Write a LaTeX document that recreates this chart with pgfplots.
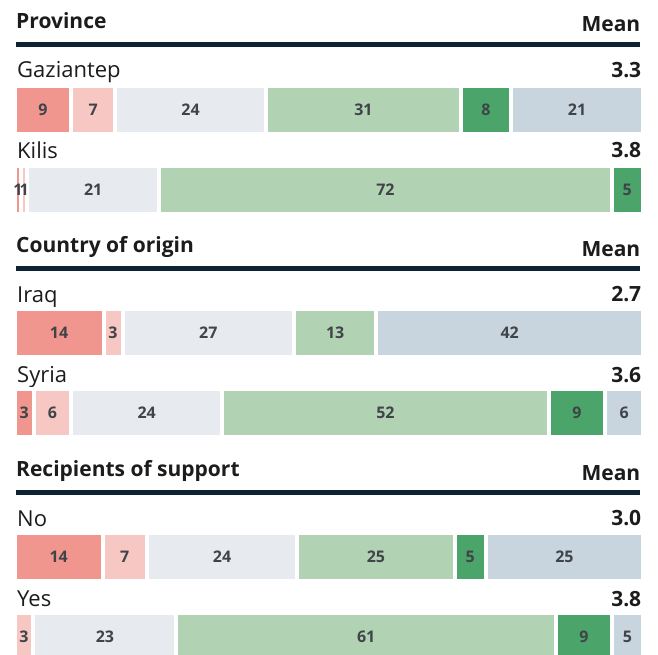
\documentclass[border=0pt]{standalone}
\usepackage{pgfplots}
\usepackage{pgfplotstable}
\pgfplotsset{compat=1.18}
\usepackage{fontspec}
\setmainfont{Open Sans}

\definecolor{c1}{HTML}{F0968F}
\definecolor{c2}{HTML}{F7C8C3}
\definecolor{c3}{HTML}{E7EAEF}
\definecolor{c4}{HTML}{B2D2B4}
\definecolor{c5}{HTML}{4BA46A}
\definecolor{c6}{HTML}{C9D5DE}
\definecolor{rulec}{HTML}{0E2233}
\definecolor{labc}{HTML}{404448}
\definecolor{txtc}{HTML}{1C1C1C}

% y = bar centre (pixel row), v = share, t = row total (for normalising bar length), lab = label
\pgfplotstableread{
y v t lab
110 9 100 9
190 1 100 1
333 14 99 14
413 3 100 3
557 14 100 14
637 0 101 {}
}\segA
\pgfplotstableread{
y v t lab
110 7 100 7
190 1 100 1
333 3 99 3
413 6 100 6
557 7 100 7
637 3 101 3
}\segB
\pgfplotstableread{
y v t lab
110 24 100 24
190 21 100 21
333 27 99 27
413 24 100 24
557 24 100 24
637 23 101 23
}\segC
\pgfplotstableread{
y v t lab
110 31 100 31
190 72 100 72
333 13 99 13
413 52 100 52
557 25 100 25
637 61 101 61
}\segD
\pgfplotstableread{
y v t lab
110 8 100 8
190 5 100 5
333 0 99 {}
413 9 100 9
557 5 100 5
637 9 101 9
}\segE
\pgfplotstableread{
y v t lab
110 21 100 21
190 0 100 {}
333 42 99 42
413 6 100 6
557 25 100 25
637 5 101 5
}\segF

\newcommand{\hfont}{\fontsize{21}{21}\selectfont\bfseries}
\newcommand{\rfont}{\fontsize{22}{22}\selectfont}
\newcommand{\mfont}{\fontsize{21}{21}\selectfont\bfseries}

\begin{document}
\begin{tikzpicture}
\begin{axis}[
  scale only axis, width=658pt, height=655pt,
  xmin=-2.34, xmax=102.39, ymin=0, ymax=655, y dir=reverse,
  axis lines=none, xbar stacked, bar width=48,
  clip=true,
  every axis plot/.append style={draw=white, line width=4pt},
  point meta=explicit symbolic,
  nodes near coords,
  every node near coord/.append style={anchor=center, draw=none,
     font=\fontsize{16}{16}\selectfont\bfseries, text=labc},
]
\addplot[fill=c1] table[x expr=\thisrow{v}*100/\thisrow{t}, y=y, meta=lab] {\segA};
\addplot[fill=c2] table[x expr=\thisrow{v}*100/\thisrow{t}, y=y, meta=lab] {\segB};
\addplot[fill=c3] table[x expr=\thisrow{v}*100/\thisrow{t}, y=y, meta=lab] {\segC};
\addplot[fill=c4] table[x expr=\thisrow{v}*100/\thisrow{t}, y=y, meta=lab] {\segD};
\addplot[fill=c5] table[x expr=\thisrow{v}*100/\thisrow{t}, y=y, meta=lab] {\segE};
\addplot[fill=c6] table[x expr=\thisrow{v}*100/\thisrow{t}, y=y, meta=lab] {\segF};

\coordinate (BBa) at (rel axis cs:0,0);
\coordinate (BBb) at (rel axis cs:1,1);

% section headers
\node[anchor=base west, font=\hfont, text=txtc, inner sep=0pt] at (axis cs:0.21,28.5) {Province};
\node[anchor=base east, font=\hfont, text=txtc, inner sep=0pt] at (axis cs:99.6,32) {Mean};
\draw[rulec, line width=5pt] (axis cs:0.21,44.5) -- (axis cs:99.6,44.5);

\node[anchor=base west, font=\hfont, text=txtc, inner sep=0pt] at (axis cs:0.21,252.5) {Country of origin};
\node[anchor=base east, font=\hfont, text=txtc, inner sep=0pt] at (axis cs:99.6,256) {Mean};
\draw[rulec, line width=5pt] (axis cs:0.21,268.5) -- (axis cs:99.6,268.5);

\node[anchor=base west, font=\hfont, text=txtc, inner sep=0pt] at (axis cs:0.21,476.5) {Recipients of support};
\node[anchor=base east, font=\hfont, text=txtc, inner sep=0pt] at (axis cs:99.6,480) {Mean};
\draw[rulec, line width=5pt] (axis cs:0.21,492.5) -- (axis cs:99.6,492.5);

% row labels and means
\node[anchor=base west, font=\rfont, text=txtc, inner sep=0pt] at (axis cs:0.37,78) {Gaziantep};
\node[anchor=base east, font=\mfont, text=txtc, inner sep=0pt] at (axis cs:99.75,77.5) {3.3};
\node[anchor=base west, font=\rfont, text=txtc, inner sep=0pt] at (axis cs:0.37,158.5) {Kilis};
\node[anchor=base east, font=\mfont, text=txtc, inner sep=0pt] at (axis cs:99.75,158) {3.8};

\node[anchor=base west, font=\rfont, text=txtc, inner sep=0pt] at (axis cs:0.37,302) {Iraq};
\node[anchor=base east, font=\mfont, text=txtc, inner sep=0pt] at (axis cs:99.75,301.5) {2.7};
\node[anchor=base west, font=\rfont, text=txtc, inner sep=0pt] at (axis cs:0.37,382.5) {Syria};
\node[anchor=base east, font=\mfont, text=txtc, inner sep=0pt] at (axis cs:99.75,382) {3.6};

\node[anchor=base west, font=\rfont, text=txtc, inner sep=0pt] at (axis cs:0.37,526) {No};
\node[anchor=base east, font=\mfont, text=txtc, inner sep=0pt] at (axis cs:99.75,525.5) {3.0};
\node[anchor=base west, font=\rfont, text=txtc, inner sep=0pt] at (axis cs:0.37,606.5) {Yes};
\node[anchor=base east, font=\mfont, text=txtc, inner sep=0pt] at (axis cs:99.75,606) {3.8};
\end{axis}
\pgfresetboundingbox
\useasboundingbox (BBa) rectangle (BBb);
\end{tikzpicture}
\end{document}
